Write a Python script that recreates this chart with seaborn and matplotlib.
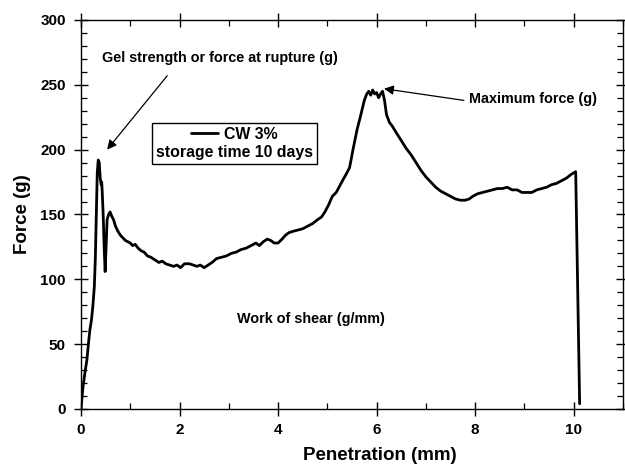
import matplotlib
matplotlib.use("Agg")
import matplotlib.pyplot as plt
import seaborn as sns
import pandas as pd
from matplotlib.ticker import MultipleLocator

# Texture analyser trace: force vs. penetration
penetration_mm = [
    0.00, 0.04, 0.08, 0.12, 0.15, 0.18, 0.21, 0.24, 0.27, 0.29,
    0.31, 0.33, 0.35, 0.37, 0.39, 0.41, 0.42, 0.43, 0.45, 0.47,
    0.49, 0.51, 0.53, 0.56, 0.59, 0.62, 0.66, 0.70, 0.75, 0.80,
    0.85, 0.90, 0.95, 1.00, 1.05, 1.10, 1.16, 1.22, 1.28, 1.35,
    1.42, 1.50, 1.58, 1.65, 1.72, 1.80, 1.88, 1.95, 2.02, 2.10,
    2.20, 2.28, 2.35, 2.42, 2.50, 2.58, 2.66, 2.75, 2.85, 2.95,
    3.05, 3.15, 3.25, 3.35, 3.45, 3.55, 3.62, 3.70, 3.78, 3.85,
    3.92, 4.00, 4.08, 4.15, 4.22, 4.30, 4.40, 4.50, 4.60, 4.70,
    4.80, 4.88, 4.95, 5.02, 5.10, 5.18, 5.25, 5.32, 5.38, 5.45,
    5.52, 5.60, 5.68, 5.75, 5.80, 5.84, 5.88, 5.92, 5.96, 6.00,
    6.04, 6.08, 6.12, 6.16, 6.20, 6.26, 6.32, 6.40, 6.50, 6.60,
    6.70, 6.80, 6.90, 7.00, 7.10, 7.20, 7.30, 7.40, 7.50, 7.60,
    7.70, 7.80, 7.88, 7.95, 8.05, 8.15, 8.25, 8.35, 8.45, 8.55,
    8.65, 8.75, 8.85, 8.95, 9.05, 9.15, 9.25, 9.35, 9.45, 9.55,
    9.65, 9.75, 9.85, 9.95, 10.04, 10.12,
]
force_g = [
    0, 17, 28, 38, 50, 61, 68, 79, 94, 115,
    150, 182, 192, 190, 178, 173, 175, 168, 150, 125,
    106, 125, 146, 150, 152, 149, 146, 141, 137, 134,
    132, 130, 129, 128, 126, 127, 124, 122, 121, 118,
    117, 115, 113, 114, 112, 111, 110, 111, 109, 112,
    112, 111, 110, 111, 109, 111, 113, 116, 117, 118,
    120, 121, 123, 124, 126, 128, 126, 129, 131, 130,
    128, 128, 131, 134, 136, 137, 138, 139, 141, 143,
    146, 148, 152, 157, 164, 167, 172, 177, 181, 186,
    200, 215, 227, 238, 243, 245, 242, 246, 243, 244,
    240, 243, 245, 238, 227, 221, 218, 213, 207, 201,
    196, 190, 184, 179, 175, 171, 168, 166, 164, 162,
    161, 161, 162, 164, 166, 167, 168, 169, 170, 170,
    171, 169, 169, 167, 167, 167, 169, 170, 171, 173,
    174, 176, 178, 181, 183, 4,
]

series_label = "CW 3%"
series_note = "storage time 10 days"

df = pd.DataFrame({"Penetration (mm)": penetration_mm, "Force (g)": force_g})

sns.set_style("ticks")
plt.rcParams["font.family"] = ["Liberation Sans", "DejaVu Sans"]
plt.rcParams["font.weight"] = "bold"
plt.rcParams["text.color"] = "black"
plt.rcParams["axes.labelcolor"] = "black"
plt.rcParams["xtick.color"] = "black"
plt.rcParams["ytick.color"] = "black"
plt.rcParams["axes.edgecolor"] = "black"

fig = plt.figure(figsize=(6.25, 4.67), dpi=100)
ax = fig.add_axes([0.1296, 0.1242, 0.8672, 0.8330])

sns.lineplot(data=df, x="Penetration (mm)", y="Force (g)", ax=ax,
             color="black", linewidth=2.0, sort=False, estimator=None,
             label=series_label)

ax.set_xlim(0, 11)
ax.set_ylim(0, 300)
ax.xaxis.set_major_locator(MultipleLocator(2))
ax.xaxis.set_minor_locator(MultipleLocator(1))
ax.yaxis.set_major_locator(MultipleLocator(50))
ax.yaxis.set_minor_locator(MultipleLocator(10))

for side in ["left", "right", "top", "bottom"]:
    ax.spines[side].set_visible(True)
    ax.spines[side].set_linewidth(1.0)
    ax.spines[side].set_color("black")

ax.tick_params(which="major", direction="inout", length=10, width=1.0,
               top=True, right=True, labelsize=11, pad=5,
               colors="black", labelcolor="black")
ax.tick_params(which="minor", direction="in", length=4, width=0.9,
               top=True, right=True, colors="black")
ax.tick_params(axis="y", which="major", pad=6)
for lbl in ax.get_xticklabels() + ax.get_yticklabels():
    lbl.set_fontweight("bold")

ax.set_xlabel("Penetration (mm)", fontsize=13.5, fontweight="bold",
              color="black")
ax.set_ylabel("Force (g)", fontsize=13.5, fontweight="bold", color="black")
ax.xaxis.set_label_coords(0.552, -0.098)
ax.yaxis.set_label_coords(-0.092, 0.5)

# Legend: line sample with series name, storage note underneath
leg = ax.legend(loc="upper left", bbox_to_anchor=(0.131, 0.735),
                borderaxespad=0, frameon=True, fancybox=False,
                edgecolor="black", framealpha=1,
                prop={"weight": "bold", "size": 11.4},
                title=series_note,
                title_fontproperties={"weight": "bold", "size": 11.4},
                handlelength=1.7, handletextpad=0.4,
                borderpad=0.25, labelspacing=0.2)
leg.get_frame().set_linewidth(1.0)
for t in leg.get_texts():
    t.set_color("black")
leg.get_title().set_color("black")
leg._legend_box._children = [leg._legend_handle_box, leg._legend_title_box]

arrow = dict(arrowstyle="-|>", color="black", lw=0.9,
             mutation_scale=14, shrinkA=0, shrinkB=0)

ax.text(0.43, 271, "Gel strength or force at rupture (g)",
        fontsize=10.4, fontweight="bold", ha="left", va="center",
        color="black")
ax.annotate("", xy=(0.53, 200), xytext=(1.75, 257), arrowprops=arrow)

ax.text(7.87, 239, "Maximum force (g)",
        fontsize=10.4, fontweight="bold", ha="left", va="center",
        color="black")
ax.annotate("", xy=(6.15, 247), xytext=(7.77, 238), arrowprops=arrow)

ax.text(3.17, 69.5, "Work of shear (g/mm)",
        fontsize=10.4, fontweight="bold", ha="left", va="center",
        color="black")

fig.savefig("out.png", dpi=100)
